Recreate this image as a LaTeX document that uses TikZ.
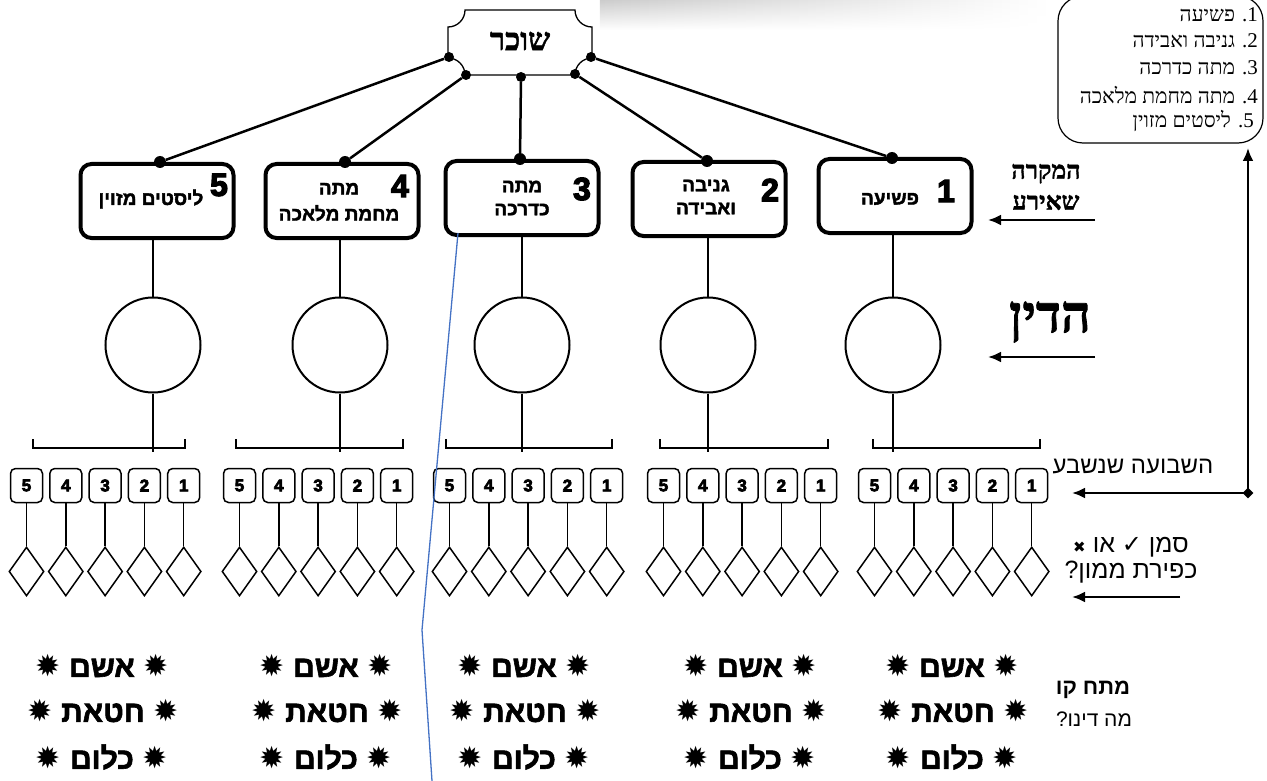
\documentclass[tikz,border=0pt]{standalone}
\usepackage{fontspec}
\usetikzlibrary{shapes.geometric,arrows.meta,fadings}
\TeXXeTstate=1
\newfontfamily\hsans[Script=Hebrew]{Liberation Sans}
\newfontfamily\hserif[Script=Hebrew,BoldFeatures={FakeBold=1.5}]{Liberation Serif}
\newfontfamily\hheavy[Script=Hebrew,BoldFeatures={FakeBold=2}]{Liberation Sans}
\newfontfamily\hblack[Script=Hebrew,BoldFeatures={FakeBold=4}]{Liberation Sans}
\newfontfamily\symf{DejaVu Sans}
\newcommand\hebr[1]{\beginR#1\endR}
\newcommand\fs[1]{\fontsize{#1}{#1}\selectfont}
\definecolor{bluel}{RGB}{68,114,196}
\newcommand\optline[1]{{\symf\fs{30}✹}\hspace{9pt}{\hheavy\bfseries\fs{30}\hebr{#1}}\hspace{9pt}{\symf\fs{30}✹}}
\begin{document}
\begin{tikzpicture}[x=1pt,y=-1pt,
  bigbox/.style={draw,line width=4pt,rounded corners=11pt,minimum width=153pt,minimum height=74pt,inner sep=0pt},
  circ/.style={draw,circle,line width=2pt,minimum size=95pt,inner sep=0pt},
  smallbox/.style={draw,line width=1.5pt,rounded corners=5pt,minimum width=32pt,minimum height=34pt,inner sep=0pt,font=\hblack\bfseries\fs{17}},
  dia/.style={draw,diamond,line width=1.5pt,minimum width=35pt,minimum height=49pt,inner sep=0pt},
  dot/.style={circle,fill=black,inner sep=0pt,minimum size=10pt},
  bdot/.style={circle,fill=black,inner sep=0pt,minimum size=12pt},
  conn/.style={line width=2.5pt},
  thinl/.style={line width=1.5pt},
  arr/.style={line width=2.5pt,-{Latex[length=13pt,width=11pt]}},
  boxnum/.style={inner sep=0pt,font=\hblack\bfseries\fs{32}},
  boxtxt/.style={inner sep=0pt,align=center,font=\hheavy\bfseries\fs{19}},
  opt/.style={inner sep=0pt},
  legend/.style={inner sep=0pt,anchor=east,font=\hserif\fs{21}}
]
\useasboundingbox (0,0) rectangle (1267,781);
% faint shadow smudge at top
\shade[left color=gray!40,right color=white,path fading=south] (600,0) rectangle (1050,30);

% legend box
\draw[line width=1.2pt,rounded corners=25pt] (1058,-4) rectangle (1263,143);
\node[legend] (l1) at (1258,15) {\hebr{1. פשיעה}};
\node[legend] (l2) at (1258,41) {\hebr{2. גניבה ואבידה}};
\node[legend] (l3) at (1258,68) {\hebr{3. מתה כדרכה}};
\node[legend] (l4) at (1258,95) {\hebr{4. מתה מחמת מלאכה}};
\node[legend] (l5) at (1254,121) {\hebr{5. ליסטים מזוין}};

% top shape
\draw[line width=1.3pt,fill=white]
  (465,10) -- (575,10) .. controls (575,19.4) and (582.6,27) .. (592,27)
  -- (592,58) .. controls (582.6,58) and (575,65.6) .. (575,75)
  -- (465,75) .. controls (465,65.6) and (457.4,58) .. (448,58)
  -- (448,27) .. controls (457.4,27) and (465,19.4) .. (465,10) -- cycle;
\node[inner sep=0pt,font=\hserif\bfseries\fs{31}] (sokher) at (520,41) {\hebr{שוכר}};
\node[dot] (d1) at (591,57) {};
\node[dot] (d2) at (575,74) {};
\node[dot] (d3) at (521,77) {};
\node[dot] (d4) at (466,75) {};
\node[dot] (d5) at (449,57) {};

% groups
\foreach \g/\bx/\by/\cx/\sx/\bl/\br/\ox in {
 1/895/196/893/858/873/1040/952,
 2/709/199/708/647/660/828/750,
 3/522/198/522/433/446/612/524,
 4/342/201/340/223/236/403/326,
 5/157/201/153/10/33/185/102}
{
  \node[bigbox] (box\g) at (\bx,\by) {};
  \node[circ] (circ\g) at (\cx,345) {};
  \draw[thinl] (circ\g.north |- box\g.south) -- (circ\g.north);
  \coordinate (brc\g) at (\cx,452);
  \draw[thinl] (circ\g.south) -- (brc\g);
  \coordinate (brl\g) at (\bl,448);
  \coordinate (brr\g) at (\br,448);
  \draw[thinl] ([yshift=9pt]brl\g) -- (brl\g) -- (brr\g) -- ([yshift=9pt]brr\g);
  \foreach \k in {1,...,5} {
    \pgfmathsetmacro\xx{\sx+16.5+(5-\k)*39.3}
    \node[smallbox] (sb\g-\k) at (\xx,485.5) {\k};
    \node[dia] (dm\g-\k) at (\xx,571.5) {};
    \draw[thinl] (sb\g-\k.south) -- (dm\g-\k.north);
  }
  \node[opt] (oa\g) at (\ox,666) {\optline{אשם}};
  \node[opt] (ob\g) at (\ox+1,711) {\optline{חטאת}};
  \node[opt] (oc\g) at (\ox,757) {\optline{כלום}};
}

% dots on top of boxes and connectors
\node[bdot] (t1) at (892,158) {};
\node[bdot] (t2) at (707,161) {};
\node[bdot] (t3) at (520,159) {};
\node[bdot] (t4) at (345,162) {};
\node[bdot] (t5) at (160,162) {};
\draw[conn] (d1) -- (t1);
\draw[conn] (d2) -- (t2);
\draw[conn] (d3) -- (t3);
\draw[conn] (d4) -- (t4);
\draw[conn] (d5) -- (t5);

% box texts
\node[boxnum] (n1) at (946,191) {1};
\node[boxtxt] (x1) at (890,199) {\hebr{פשיעה}};
\node[boxnum] (n2) at (770,190) {2};
\node[boxtxt] (x2) at (706,197) {\hebr{גניבה}\\[4pt]\hebr{ואבידה}};
\node[boxnum] (n3) at (582,189) {3};
\node[boxtxt] (x3) at (522,198) {\hebr{מתה}\\[4pt]\hebr{כדרכה}};
\node[boxnum] (n4) at (400,186) {4};
\node[boxtxt] (x4) at (339,202) {\hebr{מתה}\\[7pt]\hebr{מחמת מלאכה}};
\node[boxnum] (n5) at (219,185) {5};
\node[boxtxt] (x5) at (151,199) {\hebr{ליסטים מזוין}};

% right annotations
\node[inner sep=0pt,align=center,font=\hserif\bfseries\fs{25}] (mikre) at (1046,187) {\hebr{המקרה}\\[6pt]\hebr{שאירע}};
\coordinate (a1s) at (1095,220);
\coordinate (a1e) at (988,220);
\draw[arr] (a1s) -- (a1e);
\node[inner sep=0pt,font=\hserif\bfseries\fs{52}] (hadin) at (1050,322) {\hebr{הדין}};
\coordinate (a2s) at (1095,357);
\coordinate (a2e) at (988,357);
\draw[arr] (a2s) -- (a2e);
\node[inner sep=0pt,font=\hsans\fs{24}] (shvua) at (1133,467) {\hebr{השבועה שנשבע}};
\node[diamond,fill=black,inner sep=0pt,minimum size=11pt] (jn) at (1248,493) {};
\coordinate (uptip) at (1248,148);
\coordinate (lefttip) at (1072,493);
\draw[arr] (jn.center) -- (uptip);
\draw[arr] (jn.center) -- (lefttip);
\node[inner sep=0pt,align=center,font=\hsans\fs{25}] (siman) at (1131,560) {\hebr{סמן {\symf\fs{24}✓} או {\symf\fs{15}✖}}\\[1pt]\hebr{כפירת ממון?}};
\coordinate (a4s) at (1180,597);
\coordinate (a4e) at (1072,597);
\draw[arr] (a4s) -- (a4e);
\node[inner sep=0pt,font=\hsans\bfseries\fs{22}] (metah) at (1093,690) {\hebr{מתח קו}};
\node[inner sep=0pt,font=\hsans\fs{21}] (dino) at (1094,719) {\hebr{מה דינו?}};

% blue hand-drawn line
\coordinate (bl1) at (458,233);
\coordinate (bl2) at (422,630);
\coordinate (bl3) at (432,781);
\draw[bluel,line width=1.3pt] (bl1) -- (bl2) -- (bl3);
\end{tikzpicture}
\end{document}
